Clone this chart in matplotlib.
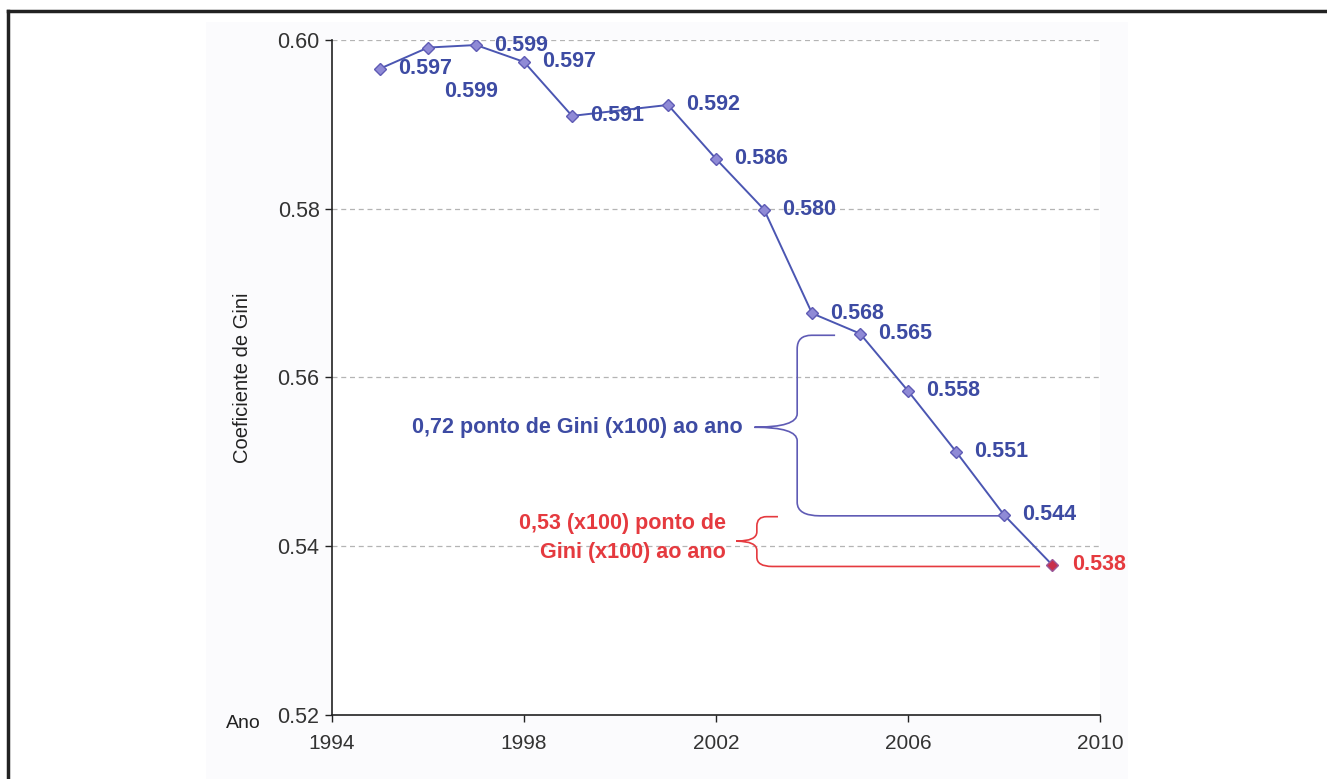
import matplotlib.pyplot as plt
from matplotlib.path import Path
from matplotlib.patches import PathPatch, Rectangle
from matplotlib.lines import Line2D

years = [1995, 1996, 1997, 1998, 1999, 2001, 2002, 2003, 2004, 2005, 2006, 2007, 2008, 2009]
gini = [0.5966, 0.5991, 0.5994, 0.5974, 0.5910, 0.5923, 0.5859, 0.5799,
        0.5676, 0.5652, 0.5584, 0.5512, 0.5437, 0.5378]

x_ticks = [1994, 1998, 2002, 2006, 2010]
y_ticks = [0.52, 0.54, 0.56, 0.58, 0.60]

blue_note = "0,72 ponto de Gini (x100) ao ano"
red_note = "0,53 (x100) ponto de\nGini (x100) ao ano"

BLUE = "#3d4ba3"
LINE = "#4b56b2"
FACE = "#8f8ad6"
EDGE = "#5f5bb5"
RED = "#e53a3f"

plt.rcParams["font.family"] = ["Liberation Sans", "DejaVu Sans"]


def brace(ax, xs, x_top, x_bot, x_tip, y_top, y_mid, y_bot, color, rx=0.22, ry=0.0013):
    # curly bracket pointing left, arms running right to x_top / x_bot
    verts = [
        (x_top, y_top), (xs + rx, y_top),
        (xs, y_top), (xs, y_top - ry),
        (xs, y_mid + ry),
        (xs, y_mid), (x_tip, y_mid),
        (xs, y_mid), (xs, y_mid - ry),
        (xs, y_bot + ry),
        (xs, y_bot), (xs + rx * 1.6, y_bot),
        (x_bot, y_bot),
    ]
    codes = [Path.MOVETO, Path.LINETO,
             Path.CURVE3, Path.CURVE3,
             Path.LINETO,
             Path.CURVE3, Path.CURVE3,
             Path.CURVE3, Path.CURVE3,
             Path.LINETO,
             Path.CURVE3, Path.CURVE3,
             Path.LINETO]
    ax.add_patch(PathPatch(Path(verts, codes), fill=False, edgecolor=color,
                           linewidth=1.2, clip_on=False))


fig = plt.figure(figsize=(13.27, 7.79), dpi=100)
fig.patch.set_facecolor("white")

# faint panel behind the plot and the outer frame
fig.add_artist(Rectangle((0.155, 0.0), 0.695, 0.972, transform=fig.transFigure,
                         facecolor="#fbfbfd", edgecolor="none", zorder=-10))
fig.add_artist(Line2D([0.006, 1.0], [0.9859, 0.9859], color="#222222", linewidth=2.5))
fig.add_artist(Line2D([0.006, 0.006], [0.0, 0.9859], color="#222222", linewidth=2.5))

ax = fig.add_axes([0.2502, 0.0822, 0.5788, 0.8665])
ax.set_facecolor("white")

ax.plot(years, gini, color=LINE, linewidth=1.4, zorder=3)
ax.plot(years[:-1], gini[:-1], linestyle="none", marker="D", markersize=6.5,
        markerfacecolor=FACE, markeredgecolor=EDGE, markeredgewidth=1.0, zorder=4)
ax.plot(years[-1:], gini[-1:], linestyle="none", marker="D", markersize=6.5,
        markerfacecolor="#c8304c", markeredgecolor="#9a5a9a", markeredgewidth=1.0, zorder=4)

for yr, v in zip(years, gini):
    off = (11.5, -31.5) if yr == 1996 else (13, 0)
    col = BLUE
    if yr == years[-1]:
        off, col = (14.5, 0), RED
    ax.annotate(f"{v:.3f}", (yr, v), xytext=off, textcoords="offset points",
                ha="left", va="center", fontsize=15.5, fontweight="bold", color=col)

ax.set_xlim(1994, 2010)
ax.set_ylim(0.52, 0.60)
ax.set_xticks(x_ticks)
ax.set_yticks(y_ticks)
ax.set_yticklabels([f"{t:.2f}" for t in y_ticks])
ax.tick_params(axis="both", direction="out", length=5, width=1, colors="#222222",
               labelcolor="#333333")
ax.tick_params(axis="y", labelsize=15.5, pad=4)
ax.tick_params(axis="x", labelsize=15, pad=9)

for t in y_ticks[1:]:
    ax.axhline(t, color="#b4b4b4", linewidth=0.9, linestyle=(0, (4, 3)), zorder=1)

for side in ("top", "right"):
    ax.spines[side].set_visible(False)
for side in ("left", "bottom"):
    ax.spines[side].set_color("#222222")
    ax.spines[side].set_linewidth(1.2)

ax.set_ylabel("Coeficiente de Gini", fontsize=14.5, color="#222222", labelpad=18)
ax.text(-0.115, -0.012, "Ano", transform=ax.transAxes, ha="center", va="center",
        fontsize=14, color="#222222")

# blue bracket: 2008 against 2001-2005 trend
brace(ax, xs=2003.69, x_top=2004.48, x_bot=2007.92, x_tip=2002.8,
      y_top=0.5650, y_mid=0.5541, y_bot=0.5436, color=EDGE, rx=0.3, ry=0.0016)
ax.text(2002.56, 0.5541, blue_note, ha="right", va="center", fontsize=15.5,
        fontweight="bold", color=BLUE)

# red bracket for the last year
brace(ax, xs=2002.85, x_top=2003.29, x_bot=2008.75, x_tip=2002.42,
      y_top=0.5435, y_mid=0.5406, y_bot=0.5376, color=RED, rx=0.2, ry=0.0011)
ax.text(2002.2, 0.5410, red_note, ha="right", va="center", fontsize=15.5,
        fontweight="bold", color=RED, multialignment="right", linespacing=1.5)

fig.savefig("out.png", dpi=100)
